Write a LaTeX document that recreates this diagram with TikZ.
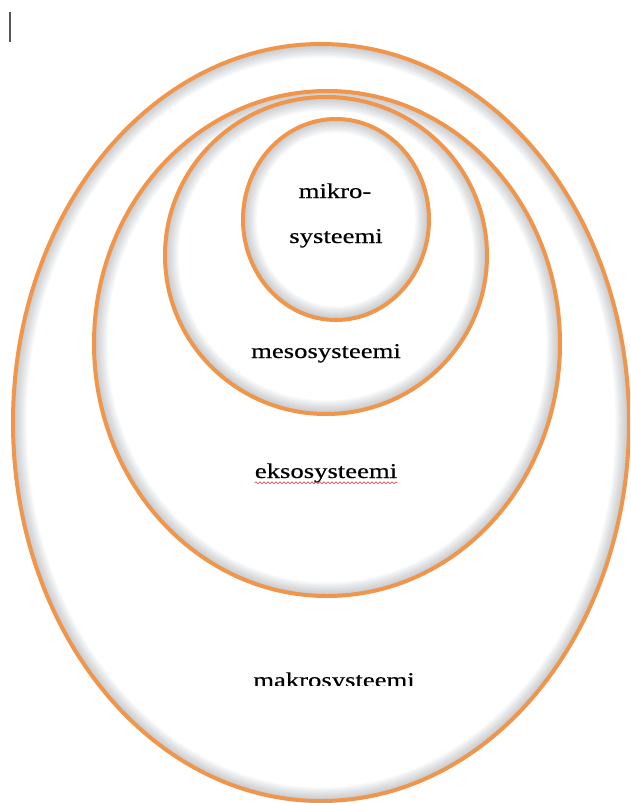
\documentclass[tikz,border=0pt]{standalone}
\usepackage{fontspec}
\setmainfont{Liberation Serif}[FakeStretch=1.27, FakeBold=0.5]
\usetikzlibrary{decorations.pathmorphing}
\definecolor{sysorange}{HTML}{F0964C}
\definecolor{sysshade}{HTML}{7E858E}
\definecolor{sysred}{HTML}{D9413F}
\definecolor{syscursor}{HTML}{555555}

\begin{document}
\begin{tikzpicture}[x=1pt, y=-1pt,
    syslabel/.style={anchor=base, inner sep=0pt, font=\fontsize{21}{25}\selectfont}]
    \useasboundingbox (0,0) rectangle (630,803);
    \clip (0,0) rectangle (630,803);
    \fill[white] (0,0) rectangle (630,803);
    \draw[syscursor, line width=1.3pt] (10,12) -- (10,42);
    \foreach \cx/\cy/\rx/\ry in {321/422.5/308/378.5, 327/343.5/233/252.5, 326/255.5/161/158.5, 336/219.5/93/100.5}{
      \fill[white] (\cx,\cy) ellipse[x radius=\rx pt, y radius=\ry pt];
      \begin{scope}
        \clip (\cx,\cy) ellipse[x radius=\rx pt, y radius=\ry pt];
        \foreach \w in {3,6,...,27}
          \draw[sysshade, opacity=0.055, line width=\w pt] (\cx,\cy) ellipse[x radius=\rx pt, y radius=\ry pt];
      \end{scope}
      \draw[sysorange, line width=4pt] (\cx,\cy) ellipse[x radius=\rx pt, y radius=\ry pt];
    }
    \node[syslabel] (mikro) at (335,198) {mikro-};
    \node[syslabel] (mikro2) at (336,243) {systeemi};
    \node[syslabel] (meso) at (326,358) {mesosysteemi};
    \node[syslabel] (ekso) at (326,478) {eksosysteemi};
    \draw[sysred, line width=0.6pt, decorate, decoration={snake, amplitude=0.9pt, segment length=4pt}]
      (ekso.south west) -- (ekso.south east);
    \begin{scope}
      \clip (0,0) rectangle (630,685);
      \node[syslabel] (makro) at (334,687) {makrosysteemi};
    \end{scope}
\end{tikzpicture}
\end{document}
